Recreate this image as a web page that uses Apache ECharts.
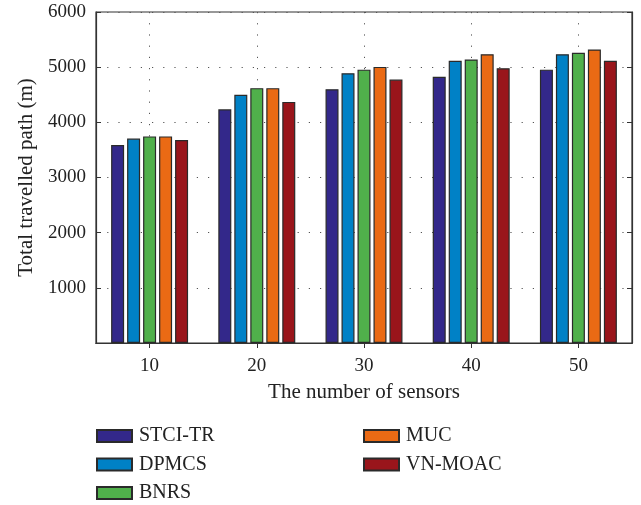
<!DOCTYPE html>
<html><head><meta charset="utf-8">
<script src="https://cdn.jsdelivr.net/npm/echarts@6/dist/echarts.min.js"></script>
<style>html,body{margin:0;padding:0;background:#fff}#c{width:641px;height:505px}</style>
</head><body><div id="c"></div>
<script>
const categories = ['10', '20', '30', '40', '50'];
const seriesNames = ['STCI-TR', 'DPMCS', 'BNRS', 'MUC', 'VN-MOAC'];
const stciTR = [3590, 4235, 4600, 4825, 4955];
const dpmcs = [3705, 4500, 4890, 5115, 5235];
const bnrs = [3745, 4620, 4955, 5140, 5260];
const muc = [3745, 4620, 5005, 5235, 5320];
const vnMoac = [3680, 4370, 4775, 4980, 5115];
const yTicks = [0, 1000, 2000, 3000, 4000, 5000, 6000];
const colors = ['#33288a', '#0081c6', '#50b04b', '#ea6a14', '#99151b'];

const allData = [stciTR, dpmcs, bnrs, muc, vnMoac];
const font = '"Liberation Serif", "DejaVu Serif", serif';
const dotted = {color: '#555', width: 1, type: [1.2, 10]};
const legendText = {fontFamily: font, fontSize: 20, color: '#222', padding: [0, 0, 0, 2]};

const chart = echarts.init(document.getElementById('c'), null, {renderer: 'canvas'});
chart.setOption({
  animation: false,
  backgroundColor: '#fff',
  textStyle: {fontFamily: font},
  grid: {left: 96, right: 9, top: 12, bottom: 162, show: true, borderColor: '#333', borderWidth: 1.2},
  legend: [
    {data: seriesNames.slice(0, 3), orient: 'vertical', left: 96, top: 426, height: 90, padding: 0,
     itemWidth: 35, itemHeight: 12, itemGap: 8.5, textStyle: legendText, icon: 'rect'},
    {data: seriesNames.slice(3), orient: 'vertical', left: 363, top: 426, height: 90, padding: 0,
     itemWidth: 35, itemHeight: 12, itemGap: 8.5, textStyle: legendText, icon: 'rect'}
  ],
  xAxis: [
    {type: 'category', data: categories, position: 'bottom',
     name: 'The number of sensors', nameLocation: 'middle', nameGap: 39,
     nameTextStyle: {fontFamily: font, fontSize: 21, color: '#222'},
     axisLine: {show: true, lineStyle: {color: '#333', width: 1.2}},
     axisTick: {show: true, inside: true, alignWithLabel: true, length: 5, lineStyle: {color: '#333'}},
     axisLabel: {fontFamily: font, fontSize: 19, color: '#222', margin: 14},
     splitLine: {show: true, alignWithLabel: true, lineStyle: dotted}},
    {type: 'category', data: categories, position: 'top',
     axisLine: {show: true, lineStyle: {color: '#333', width: 1.2}},
     axisTick: {show: true, inside: true, alignWithLabel: true, length: 5, lineStyle: {color: '#333'}},
     axisLabel: {show: false}, splitLine: {show: false}}
  ],
  yAxis: [
    {type: 'value', min: yTicks[0], max: yTicks[yTicks.length - 1], interval: 1000,
     name: 'Total travelled path (m)', nameLocation: 'middle', nameGap: 58,
     nameTextStyle: {fontFamily: font, fontSize: 21, color: '#222'},
     axisLine: {show: true, lineStyle: {color: '#333', width: 1.2}},
     axisTick: {show: true, inside: true, length: 5, lineStyle: {color: '#333'}},
     axisLabel: {fontFamily: font, fontSize: 19, color: '#222', margin: 10,
       formatter: v => v === 0 ? '' : String(v)},
     splitLine: {show: true, lineStyle: dotted}},
    {type: 'value', min: yTicks[0], max: yTicks[yTicks.length - 1], interval: 1000, position: 'right',
     axisLine: {show: true, lineStyle: {color: '#333', width: 1.2}},
     axisTick: {show: true, inside: true, length: 5, lineStyle: {color: '#333'}},
     axisLabel: {show: false}, splitLine: {show: false}}
  ],
  series: seriesNames.map((n, i) => ({
    name: n, type: 'bar', data: allData[i], xAxisIndex: 0, yAxisIndex: 0,
    barWidth: 13, barGap: '23%',
    itemStyle: {color: colors[i], borderColor: '#2a2a2a', borderWidth: 1.2}
  }))
});
</script></body></html>
